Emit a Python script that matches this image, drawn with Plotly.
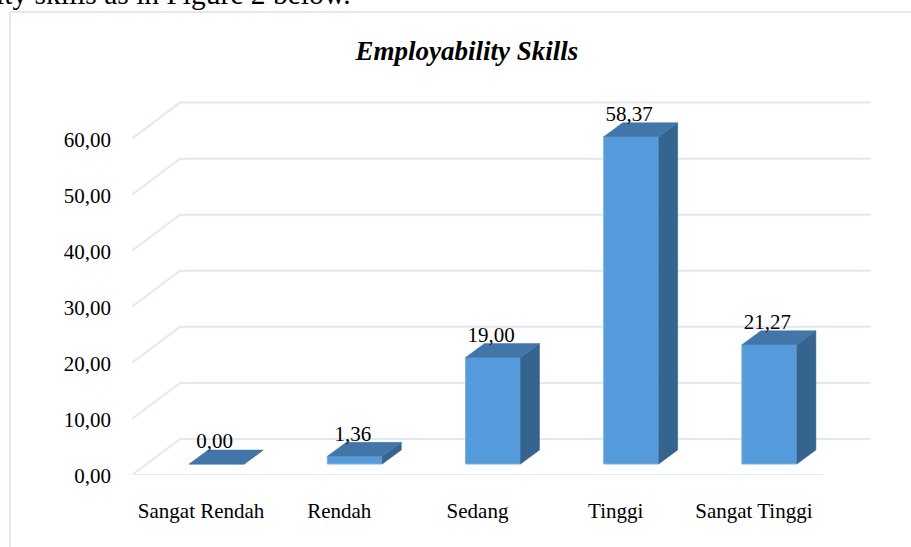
import plotly.graph_objects as go

categories = ["Sangat Rendah", "Rendah", "Sedang", "Tinggi", "Sangat Tinggi"]
values = [0.00, 1.36, 19.00, 58.37, 21.27]
y_ticks = [0, 10, 20, 30, 40, 50, 60]
title = "Employability Skills"
caption = "ity skills as in Figure 2 below."

W, H = 911, 547
ML, MB = 132, 72
PX_X = 138.2          # pixels per category
PX_Y = 5.607          # pixels per value unit


def dx(px):
    return px / PX_X


def dy(px):
    return px / PX_Y


xmin = -0.5
xmax = xmin + dx(W - ML)
ymax = dy(H - MB)

BAR_W = dx(55)
BAR_OFF = dx(-12)
BAR_BASE = dy(11)
D_X, D_Y = dx(19), dy(14)
WALL_X, WALL_Y = dx(48), dy(36)
GRID_END = xmin + dx(871 - ML)
FLOOR_END = xmin + dx(823 - ML)

FRONT = "#559ADB"
SIDE = "#35648F"
TOP = "#4376A8"
EDGE = "#7FB0E2"
GRID = "#E4E8F0"
FONT = "Liberation Serif"
xs = list(range(len(categories)))

fig = go.Figure()
fig.add_trace(go.Bar(
    x=xs, y=values, base=BAR_BASE, width=BAR_W, offset=BAR_OFF,
    marker=dict(color=FRONT, line=dict(color=EDGE, width=1)),
))

for x, v in zip(xs, values):
    left = x + BAR_OFF
    right = left + BAR_W
    top = BAR_BASE + v
    fig.add_trace(go.Scatter(
        x=[right, right + D_X, right + D_X, right, right],
        y=[BAR_BASE, BAR_BASE + D_Y, top + D_Y, top, BAR_BASE],
        mode="lines", fill="toself", fillcolor=SIDE,
        line=dict(color=SIDE, width=0.5),
    ))
    fig.add_trace(go.Scatter(
        x=[left, left + D_X, right + D_X, right, left],
        y=[top, top + D_Y, top + D_Y, top, top],
        mode="lines", fill="toself", fillcolor=TOP,
        line=dict(color=TOP, width=0.5),
    ))

fig.add_trace(go.Scatter(
    x=[x + BAR_OFF + BAR_W / 2 - dx(2) for x in xs],
    y=[BAR_BASE + v + D_Y - dy(3.5) for v in values],
    text=[f"{v:.2f}".replace(".", ",") for v in values],
    mode="text", textposition="top center",
    textfont=dict(family=FONT, size=21, color="#000000"),
))

shapes = []
for t in y_ticks:
    shapes.append(dict(
        type="path", layer="below",
        path=f"M {xmin} {t} L {xmin + WALL_X} {t + WALL_Y} L {GRID_END} {t + WALL_Y}",
        line=dict(color=GRID, width=2),
    ))
shapes.append(dict(
    type="line", layer="below", x0=xmin, x1=FLOOR_END, y0=0, y1=0,
    line=dict(color=GRID, width=2),
))
# outer frame of the picture
plot_w, plot_h = W - ML, H - MB
shapes.append(dict(
    type="line", xref="paper", yref="paper",
    x0=(10 - ML) / plot_w, x1=(10 - ML) / plot_w,
    y0=-MB / plot_h, y1=(H - MB - 12) / plot_h,
    line=dict(color=GRID, width=2),
))
shapes.append(dict(
    type="line", xref="paper", yref="paper",
    x0=(10 - ML) / plot_w, x1=1,
    y0=(H - MB - 12) / plot_h, y1=(H - MB - 12) / plot_h,
    line=dict(color=GRID, width=2),
))

fig.update_layout(
    width=W, height=H,
    margin=dict(l=ML, r=0, t=0, b=MB, pad=0),
    paper_bgcolor="white", plot_bgcolor="white",
    showlegend=False, barmode="overlay", separators=",.",
    font=dict(family=FONT, size=21, color="#000000"),
    title=dict(
        text=f"<b><i>{title}</i></b>", x=467 / W, xanchor="center",
        y=1 - 51 / H, yanchor="middle",
        font=dict(family=FONT, size=27, color="#000000"),
    ),
    xaxis=dict(
        range=[xmin, xmax], tickvals=xs, ticktext=categories,
        showgrid=False, zeroline=False, showline=False, ticks="",
        ticklabelstandoff=21, fixedrange=True,
    ),
    yaxis=dict(
        range=[0, ymax], tickvals=y_ticks, tickformat=".2f",
        showgrid=False, zeroline=False, showline=False, ticks="",
        ticklabelstandoff=20, ticklabelshift=1, fixedrange=True,
    ),
    shapes=shapes,
    annotations=[dict(
        text=caption, xref="paper", yref="paper", showarrow=False,
        x=(-6.5 - ML) / plot_w, xanchor="left",
        y=(H - MB - 12) / plot_h, yanchor="bottom",
        font=dict(family=FONT, size=29.5, color="#000000"),
    )],
)

fig.write_html(
    "out.html",
    config=dict(displayModeBar=False),
    post_script="document.body.style.margin='0';document.body.style.overflow='hidden';",
)
